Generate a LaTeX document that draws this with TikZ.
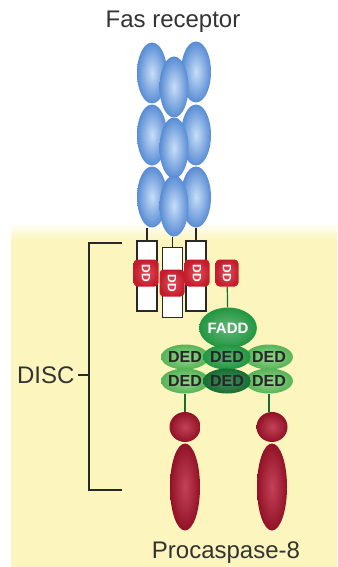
\documentclass[tikz,border=0pt]{standalone}
\usepackage{fontspec}
\setmainfont{Liberation Sans}
\usetikzlibrary{shapes.geometric}

\definecolor{bgyellow}{RGB}{252,245,190}
\definecolor{fasblue}{RGB}{88,140,212}
\definecolor{fasblueL}{RGB}{200,222,248}
\definecolor{ddred}{RGB}{196,28,44}
\definecolor{ddredL}{RGB}{226,80,90}
\definecolor{caspred}{RGB}{145,18,38}
\definecolor{caspredL}{RGB}{196,66,88}
\definecolor{dedgreen}{RGB}{86,180,86}
\definecolor{dedgreenL}{RGB}{150,214,140}
\definecolor{faddgreen}{RGB}{34,150,64}
\definecolor{darkgreen}{RGB}{22,110,50}
\definecolor{stem}{RGB}{40,40,40}

\tikzset{
  fas/.style={ellipse, inner sep=0, minimum width=30pt, minimum height=61pt,
    inner color=fasblueL, outer color=fasblue},
  tmbox/.style={draw=stem, line width=1.3pt, fill=white, inner sep=0,
    minimum width=20pt, minimum height=70pt},
  dd/.style={rounded corners=4pt, inner sep=0, minimum width=25pt, minimum height=27pt,
    inner color=ddredL, outer color=ddred, text=white,
    font=\fontsize{12}{12}\selectfont\bfseries},
  ded/.style={ellipse, inner sep=0, minimum width=44pt, minimum height=25pt,
    inner color=dedgreenL, outer color=dedgreen,
    font=\fontsize{16}{16}\selectfont\bfseries, text=black!85},
  casp/.style={ellipse, inner sep=0, inner color=caspredL, outer color=caspred},
  link/.style={draw=stem, line width=1.2pt},
  label/.style={font=\fontsize{24}{24}\selectfont, text=black!80}
}

\begin{document}
\begin{tikzpicture}[x=1pt, y=-1pt]
  \useasboundingbox (0,0) rectangle (337,567);

  % membrane side
  \fill[top color=white, bottom color=bgyellow] (11,222) rectangle (337,240);
  \fill[bgyellow] (11,240) rectangle (337,567);

  \node[label] (fasname) at (173,22) {Fas receptor};

  % receptor trimer, the middle chain sits in front
  \node[fas] (fasL1) at (152,73) {};
  \node[fas] (fasL2) at (152,135) {};
  \node[fas] (fasL3) at (152,197) {};
  \node[fas] (fasR1) at (196,72) {};
  \node[fas] (fasR2) at (196,135) {};
  \node[fas] (fasR3) at (196,197) {};
  \node[fas, minimum width=29pt] (fasM1) at (174,87) {};
  \node[fas, minimum width=29pt] (fasM2) at (174,148) {};
  \node[fas, minimum width=29pt] (fasM3) at (174,206) {};

  \node[tmbox] (boxL) at (147,276) {};
  \node[tmbox] (boxM) at (172.5,282.5) {};
  \node[tmbox] (boxR) at (196,276) {};
  \draw[link] (boxL.north) -- (boxL.north |- fasL3.south);
  \draw[link] (boxM.north) -- (boxM.north |- fasM3.south);
  \draw[link] (boxR.north) -- (boxR.north |- fasR3.south);

  \node[dd] (ddL) at (146,273) {\rotatebox{-90}{DD}};
  \node[dd] (ddM) at (172,283) {\rotatebox{-90}{DD}};
  \node[dd] (ddR) at (197,273) {\rotatebox{-90}{DD}};
  \node[dd, minimum width=23pt] (ddF) at (227,273) {\rotatebox{-90}{DD}};

  % adaptor and caspase DEDs
  \node[ellipse, inner sep=0, minimum width=44pt, minimum height=41pt,
    inner color=faddgreen!70!white, outer color=faddgreen,
    text=white, font=\fontsize{15}{15}\selectfont\bfseries] (fadd) at (228,328) {FADD};
  \draw[link, draw=darkgreen] (ddF) -- (fadd);

  \node[ded] (dedL1) at (185,357) {DED};
  \node[ded] (dedL2) at (185,381) {DED};
  \node[ded] (dedR1) at (269,357) {DED};
  \node[ded] (dedR2) at (269,381) {DED};
  \node[ded, inner color=faddgreen!75!white, outer color=faddgreen] (dedM1) at (227,357) {DED};
  \node[ded, inner color=darkgreen!80!white, outer color=darkgreen] (dedM2) at (227,381) {DED};

  % procaspase-8
  \node[casp, minimum width=31pt, minimum height=30pt] (pdL) at (185,427) {};
  \node[casp, minimum width=30pt, minimum height=87pt] (catL) at (185,487) {};
  \node[casp, minimum width=31pt, minimum height=30pt] (pdR) at (272,427) {};
  \node[casp, minimum width=30pt, minimum height=87pt] (catR) at (272,487) {};
  \draw[link, draw=darkgreen] (dedL2.south) -- (dedL2.south |- pdL.north);
  \draw[link, draw=darkgreen] (dedR2.south) -- (dedR2.south |- pdR.north);

  \node[label] (caspname) at (226,553) {Procaspase-8};

  % DISC bracket
  \coordinate (bt) at (89,243);
  \coordinate (bb) at (89,490);
  \draw[stem, line width=1.1pt] (bt -| 122,0) -- (bt) -- (bb) -- (bb -| 122,0);
  \node[label, anchor=east] (disc) at (78,375) {DISC};
  \draw[stem, line width=1.1pt] (disc.east) -- (disc.east -| bt);
\end{tikzpicture}
\end{document}
